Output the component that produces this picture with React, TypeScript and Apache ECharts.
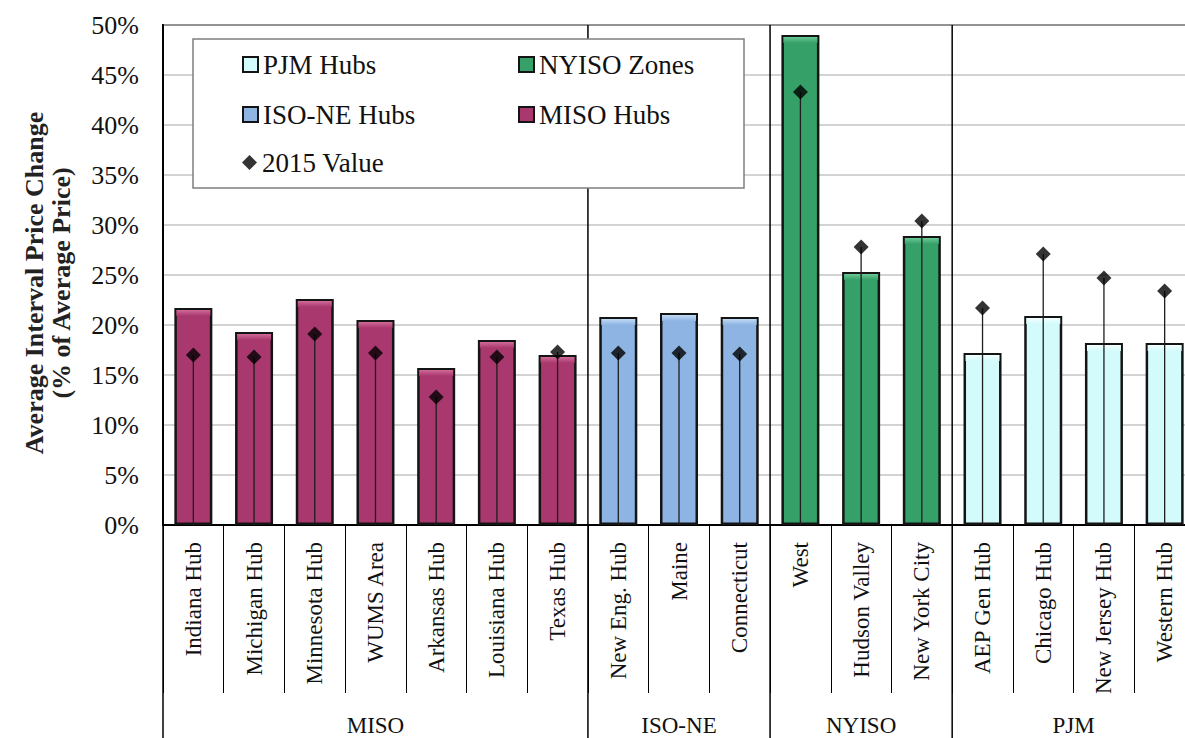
import React, { useEffect, useRef } from "react";
import * as echarts from "echarts";

const categories = [
  "Indiana Hub", "Michigan Hub", "Minnesota Hub", "WUMS Area", "Arkansas Hub", "Louisiana Hub", "Texas Hub",
  "New Eng. Hub", "Maine", "Connecticut",
  "West", "Hudson Valley", "New York City",
  "AEP Gen Hub", "Chicago Hub", "New Jersey Hub", "Western Hub",
];
const avgChange = [21.7, 19.3, 22.6, 20.5, 15.7, 18.5, 17.0, 20.8, 21.2, 20.8, 49.0, 25.3, 28.9, 17.2, 20.9, 18.2, 18.2];
const value2015 = [17.0, 16.8, 19.1, 17.2, 12.8, 16.8, 17.3, 17.2, 17.2, 17.1, 43.3, 27.8, 30.4, 21.7, 27.1, 24.7, 23.4];
const groupNames = ["MISO", "ISO-NE", "NYISO", "PJM"];
const groupSizes = [7, 3, 3, 4];
const seriesNames = ["MISO Hubs", "ISO-NE Hubs", "NYISO Zones", "PJM Hubs"];
const seriesColors = ["#a8386d", "#8db4e2", "#35a068", "#d3fbfb"];
const highlightColors = ["#d06a98", "#c2daf4", "#6cc996", "#f4ffff"];
const yAxisMax = 50;
const yAxisStep = 5;

const FONT = "'Liberation Serif', 'Times New Roman', serif";
const BAR_W = 38;

export default function App() {
  const ref = useRef<HTMLDivElement>(null);
  useEffect(() => {
    const chart = echarts.init(ref.current!, null, { renderer: "svg" });
    const groupStarts: number[] = [];
    let s = 0;
    groupSizes.forEach((n) => {
      groupStarts.push(s);
      s += n;
    });
    const groupOf = (i: number) => {
      let g = 0;
      for (let k = 0; k < groupStarts.length; k++) if (i >= groupStarts[k]) g = k;
      return g;
    };

    const barSeries = seriesNames.map((name, g) => ({
      name,
      type: "bar",
      stack: "hubs",
      barWidth: BAR_W,
      itemStyle: { color: seriesColors[g], borderColor: "#141414", borderWidth: 2.5 },
      data: avgChange.map((v, i) => (groupOf(i) === g ? v : "-")),
      z: 2,
    }));

    const legendPos: Record<string, [number, number]> = {
      "PJM Hubs": [242, 65],
      "NYISO Zones": [518, 65],
      "ISO-NE Hubs": [242, 115],
      "MISO Hubs": [518, 115],
      "2015 Value": [242, 163],
    };
    const legends = Object.keys(legendPos).map((name) => ({
      data: [{ name, icon: name === "2015 Value" ? "diamond" : "rect" }],
      left: legendPos[name][0],
      top: legendPos[name][1] - 14,
      padding: 0,
      itemWidth: 15,
      itemHeight: 15,
      selectedMode: false,
      textStyle: { fontFamily: FONT, fontSize: 27, color: "#111" },
      z: 5,
    }));

    const option: any = {
      animation: false,
      backgroundColor: "#fff",
      grid: {
        left: 163,
        top: 25,
        width: 1032,
        height: 500,
        show: true,
        borderColor: "#000",
        borderWidth: 2,
        backgroundColor: "transparent",
      },
      legend: legends,
      graphic: [
        {
          type: "rect",
          shape: { x: 193, y: 39, width: 551, height: 149 },
          style: { fill: "#fff", stroke: "#7f7f7f", lineWidth: 1.5 },
          z: 3,
        },
        {
          type: "text",
          x: 48,
          y: 283,
          rotation: Math.PI / 2,
          style: {
            text: "Average Interval Price Change\n(% of Average Price)",
            fontFamily: FONT,
            fontWeight: "bold",
            fontSize: 26,
            lineHeight: 27,
            fill: "#222",
            align: "center",
            verticalAlign: "middle",
          },
        },
      ],
      xAxis: {
        type: "category",
        data: categories,
        boundaryGap: true,
        axisLine: { lineStyle: { color: "#000", width: 2 } },
        axisTick: { show: true, interval: 0, length: 168, lineStyle: { color: "#000", width: 1 } },
        axisLabel: {
          interval: 0,
          rotate: 90,
          margin: 17,
          fontFamily: FONT,
          fontSize: 23,
          color: "#111",
        },
        splitLine: { show: false },
      },
      yAxis: {
        type: "value",
        min: 0,
        max: yAxisMax,
        interval: yAxisStep,
        axisLine: { show: true, lineStyle: { color: "#000", width: 2 } },
        axisTick: { show: false },
        axisLabel: {
          formatter: "{value}%",
          margin: 24,
          fontFamily: FONT,
          fontSize: 26,
          color: "#111",
        },
        splitLine: { show: true, lineStyle: { color: "#c4c4c4", width: 1.5 } },
      },
      series: [
        ...barSeries,
        {
          name: "highlights",
          type: "custom",
          silent: true,
          z: 2,
          data: avgChange.map((v, i) => [i, v]),
          renderItem: (params: any, api: any) => {
            const idx = api.value(0);
            const top = api.coord([idx, api.value(1)]);
            const g = groupOf(params.dataIndex);
            return {
              type: "rect",
              z2: 10,
              shape: { x: top[0] - BAR_W / 2 + 2, y: top[1] + 2, width: BAR_W - 4, height: 6 },
              style: {
                fill: new echarts.graphic.LinearGradient(0, 0, 0, 1, [
                  { offset: 0, color: highlightColors[g] },
                  { offset: 1, color: seriesColors[g] },
                ]),
              },
            };
          },
        },
        {
          name: "groups",
          type: "custom",
          silent: true,
          clip: false,
          z: 1,
          data: groupStarts.map((st, g) => [st, st + groupSizes[g] - 1]),
          renderItem: (params: any, api: any) => {
            const st = api.value(0);
            const en = api.value(1);
            const band = api.size([1, 0])[0];
            const p0 = api.coord([st, 0]);
            const p1 = api.coord([en, 0]);
            const xL = p0[0] - band / 2;
            const xR = p1[0] + band / 2;
            const cs = params.coordSys;
            const yTop = cs.y;
            const yBot = cs.y + cs.height;
            const H = api.getHeight();
            return {
              type: "group",
              children: [
                {
                  type: "line",
                  shape: { x1: xL, y1: st === 0 ? yBot : yTop, x2: xL, y2: H },
                  style: { stroke: "#000", lineWidth: 1.5 },
                },
                {
                  type: "text",
                  x: (xL + xR) / 2,
                  y: H - 13,
                  style: {
                    text: groupNames[params.dataIndex],
                    fontFamily: FONT,
                    fontSize: 23,
                    fill: "#111",
                    align: "center",
                    verticalAlign: "middle",
                  },
                },
              ],
            };
          },
        },
        {
          name: "stems",
          type: "custom",
          silent: true,
          z: 3,
          data: value2015.map((v, i) => [i, v]),
          renderItem: (params: any, api: any) => {
            const p0 = api.coord([api.value(0), 0]);
            const p1 = api.coord([api.value(0), api.value(1)]);
            return {
              type: "line",
              shape: { x1: p0[0], y1: p0[1], x2: p1[0], y2: p1[1] },
              style: { stroke: "#1e1e1e", lineWidth: 1.3 },
            };
          },
        },
        {
          name: "2015 Value",
          type: "scatter",
          symbol: "diamond",
          symbolSize: 15,
          itemStyle: { color: "#000" },
          z: 4,
          data: value2015,
        },
      ],
    };
    chart.setOption(option);
    return () => chart.dispose();
  }, []);

  return (
    <div style={{ position: "fixed", left: 0, top: 0, width: 1185, height: 738, overflow: "hidden", background: "#fff" }}>
      <div ref={ref} style={{ width: 1200, height: 738 }} />
    </div>
  );
}
